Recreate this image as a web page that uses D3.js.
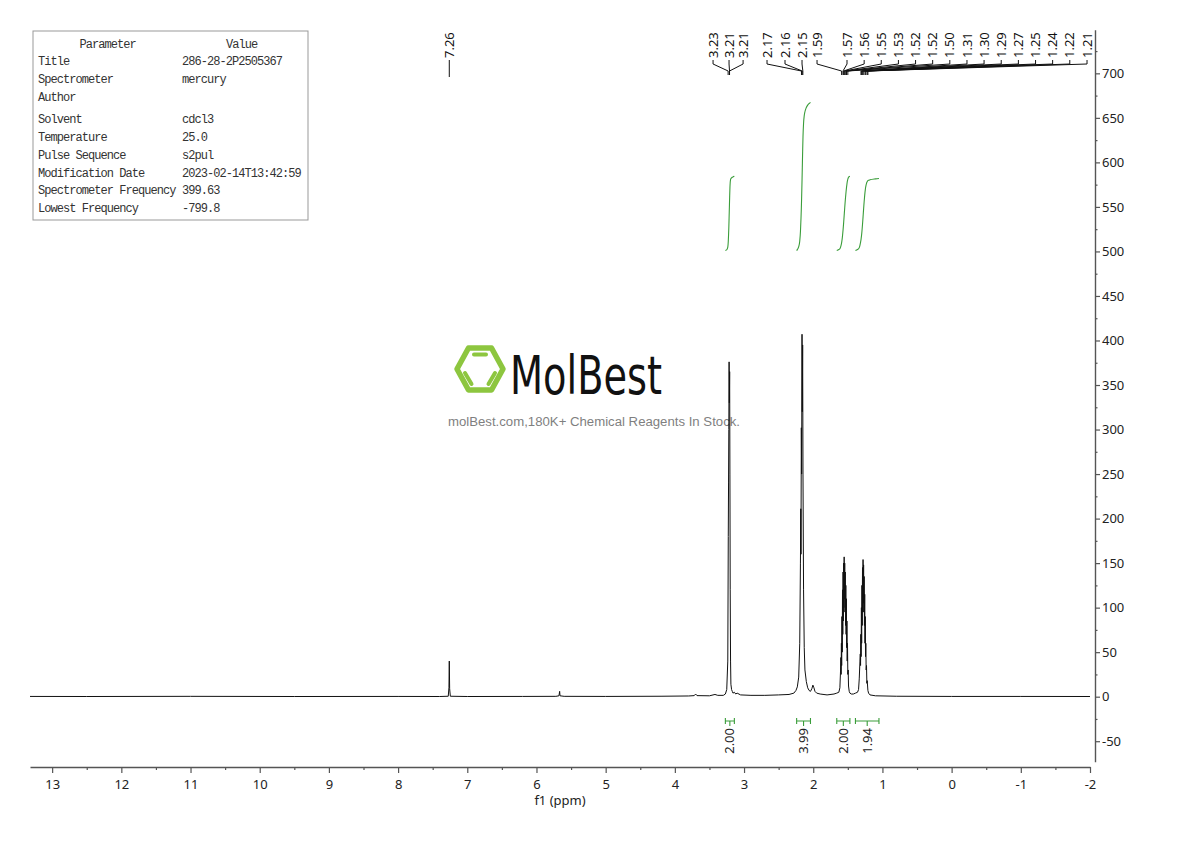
<!DOCTYPE html>
<html>
<head>
<meta charset="utf-8">
<script src="https://cdn.jsdelivr.net/npm/d3@7"></script>
<style>
  body { margin: 0; background: #fff; }
  text { font-family: "Noto Sans", sans-serif; }
</style>
</head>
<body>
<svg id="chart" width="1190" height="841"></svg>
<script>
'use strict';

// ---- data ----
var xTickValues = [13, 12, 11, 10, 9, 8, 7, 6, 5, 4, 3, 2, 1, 0, -1, -2];
var yTickValues = [-50, 0, 50, 100, 150, 200, 250, 300, 350, 400, 450, 500, 550, 600, 650, 700];

var paramNames = ['Title', 'Spectrometer', 'Author', 'Solvent', 'Temperature', 'Pulse Sequence',
                  'Modification Date', 'Spectrometer Frequency', 'Lowest Frequency'];
var paramValues = ['286-28-2P2505367', 'mercury', '', 'cdcl3', '25.0', 's2pul',
                   '2023-02-14T13:42:59', '399.63', '-799.8'];

// traced spectrum: [ppm, intensity]
var spectrum = [
  [13.32, 0.3], [12.5, 0.2], [11.0, 0.4], [9.5, 0.2], [8.0, 0.3], [7.40, 0.2],
  [7.275, 0.5], [7.265, 10], [7.26, 40], [7.255, 9], [7.245, 0.5], [7.0, 0.2],
  [6.2, 0.3], [5.72, 0.4], [5.675, 1], [5.665, 6], [5.66, 1], [5.60, 0.4], [5.0, 0.3],
  [4.2, 0.5], [3.80, 0.8], [3.72, 1.2], [3.70, 3], [3.68, 1.2], [3.50, 1], [3.42, 2.5],
  [3.38, 1.5], [3.30, 1.5], [3.27, 3], [3.25, 8], [3.235, 40], [3.228, 180], [3.224, 240],
  [3.220, 300], [3.216, 376], [3.212, 330], [3.208, 365], [3.204, 250], [3.20, 120],
  [3.195, 40], [3.19, 14], [3.18, 8], [3.17, 6], [3.16, 4], [3.14, 5], [3.12, 3], [3.10, 4],
  [3.05, 2], [2.90, 1.5], [2.70, 1.5], [2.50, 2], [2.35, 2.5], [2.28, 4], [2.25, 7],
  [2.23, 11], [2.21, 22], [2.195, 60], [2.185, 150], [2.18, 211], [2.177, 160], [2.172, 302],
  [2.168, 250], [2.162, 407], [2.158, 320], [2.153, 395], [2.148, 250], [2.14, 120],
  [2.13, 55], [2.12, 30], [2.10, 17], [2.08, 10], [2.06, 7], [2.04, 6], [2.02, 9],
  [2.005, 13], [1.99, 10], [1.975, 6], [1.95, 4], [1.90, 3], [1.80, 2], [1.70, 3],
  [1.66, 4], [1.63, 5], [1.615, 10], [1.605, 30], [1.60, 44], [1.597, 25], [1.593, 60],
  [1.589, 35], [1.585, 90], [1.581, 50], [1.577, 120], [1.573, 70], [1.569, 140],
  [1.565, 85], [1.561, 150], [1.557, 100], [1.553, 157], [1.549, 110], [1.545, 150],
  [1.541, 95], [1.537, 140], [1.533, 80], [1.529, 125], [1.525, 70], [1.521, 110],
  [1.517, 55], [1.513, 85], [1.509, 40], [1.505, 60], [1.50, 25], [1.495, 30], [1.49, 12],
  [1.48, 6], [1.47, 4], [1.45, 3], [1.42, 3], [1.39, 4], [1.36, 5], [1.345, 8],
  [1.335, 20], [1.325, 40], [1.32, 48], [1.316, 35], [1.312, 70], [1.308, 45], [1.304, 100],
  [1.30, 60], [1.296, 125], [1.292, 80], [1.288, 145], [1.284, 95], [1.280, 154],
  [1.276, 105], [1.272, 148], [1.268, 95], [1.264, 135], [1.26, 80], [1.256, 115],
  [1.252, 60], [1.248, 90], [1.244, 45], [1.24, 60], [1.235, 30], [1.23, 35], [1.225, 15],
  [1.22, 18], [1.21, 7], [1.20, 4], [1.18, 2], [1.10, 1], [0.8, 0.5], [0, 0.3],
  [-1, 0.3], [-2, 0.2]
];

var soloLabel = '7.26';
var peakLabels = ['3.23', '3.21', '3.21', '2.17', '2.16', '2.15', '1.59', '1.57', '1.56', '1.55',
                  '1.53', '1.52', '1.52', '1.50', '1.31', '1.30', '1.29', '1.27', '1.25', '1.24',
                  '1.22', '1.21'];
// where each label column sits, in ppm
var labelSlotPpm = [3.448, 3.217, 3.014, 2.668, 2.408, 2.162, 1.945, 1.512, 1.264, 1.017,
                    0.769, 0.521, 0.274, 0.026, -0.222, -0.469, -0.717, -0.965, -1.213,
                    -1.460, -1.708, -1.957];

var integralRanges = [[3.27, 3.14], [2.24, 2.04], [1.66, 1.47], [1.39, 1.05]];
var integralValues = [2.00, 3.99, 2.00, 1.94];

// ---- setup ----
var svg = d3.select('#chart');
var green = '#3a9d3a';

var x = d3.scaleLinear().domain([13.32, -2]).range([30, 1090]);
var y = d3.scaleLinear().domain([-73, 749]).range([761.7, 29.7]);

// ---- parameter table ----
var table = svg.append('g').attr('class', 'params');
table.append('rect')
  .attr('x', 33).attr('y', 31).attr('width', 275).attr('height', 189)
  .attr('fill', '#fff').attr('stroke', '#999').attr('stroke-width', 1);

function tableText(txt, tx, ty, anchor) {
  table.append('text')
    .attr('x', tx).attr('y', ty)
    .attr('text-anchor', anchor || 'start')
    .style('font-family', '"Liberation Mono", monospace')
    .style('font-size', '12px')
    .style('letter-spacing', '-0.95px')
    .attr('fill', '#333')
    .text(txt);
}
tableText('Parameter', 107.7, 47.7, 'middle');
tableText('Value', 241.7, 47.7, 'middle');
paramNames.forEach(function (name, i) {
  var ty = 65.3 + i * 17.9 + (i >= 3 ? 3.8 : 0);
  tableText(name, 38, ty);
  tableText(paramValues[i], 182, ty);
});

// ---- watermark logo ----
var logo = svg.append('g').attr('class', 'logo');
var hx = 480, hy = 369, hr = 23, hv = 21;
logo.append('path')
  .attr('d', 'M' + (hx - hr) + ',' + hy + 'L' + (hx - hr / 2) + ',' + (hy - hv) +
        'L' + (hx + hr / 2) + ',' + (hy - hv) + 'L' + (hx + hr) + ',' + hy +
        'L' + (hx + hr / 2) + ',' + (hy + hv) + 'L' + (hx - hr / 2) + ',' + (hy + hv) + 'Z')
  .attr('fill', 'none').attr('stroke', '#8dc63f').attr('stroke-width', 5.5)
  .attr('stroke-linejoin', 'round');
logo.append('path')
  .attr('d', 'M474,354.5L486,354.5 M465,373L471.5,384 M495,373L488.5,384')
  .attr('stroke', '#8dc63f').attr('stroke-width', 4).attr('stroke-linecap', 'round');
logo.append('text')
  .attr('x', 510).attr('y', 393.5)
  .attr('textLength', 152).attr('lengthAdjust', 'spacingAndGlyphs')
  .style('font-family', '"DejaVu Sans", sans-serif')
  .style('font-size', '54px')
  .attr('fill', '#111')
  .text('MolBest');
logo.append('text')
  .attr('x', 448).attr('y', 425.5)
  .attr('textLength', 292).attr('lengthAdjust', 'spacingAndGlyphs')
  .style('font-family', '"Liberation Sans", Arial, sans-serif')
  .style('font-size', '12.5px')
  .attr('fill', '#7f7f7f')
  .text('molBest.com,180K+ Chemical Reagents In Stock.');

// ---- axes ----
function styleAxis(g) {
  g.select('.domain').attr('stroke', '#555').attr('stroke-width', 1.4);
  g.selectAll('.tick line').attr('stroke', '#555').attr('stroke-width', 1.2);
  g.selectAll('.tick text').attr('fill', '#222')
    .style('font-family', '"Noto Sans", sans-serif').style('font-size', '13px');
}

var xAxis = svg.append('g').attr('transform', 'translate(0,767)')
  .call(d3.axisBottom(x).tickValues(xTickValues).tickSize(6).tickPadding(7)
    .tickSizeOuter(0).tickFormat(function (d) { return String(d); }));
styleAxis(xAxis);
var xMinor = svg.append('g').attr('transform', 'translate(0,767)')
  .call(d3.axisBottom(x).tickValues(xTickValues.slice(0, -1).map(function (d) { return d - 0.5; }))
    .tickSize(3).tickSizeOuter(0).tickFormat(''));
xMinor.select('.domain').remove();
xMinor.selectAll('.tick line').attr('stroke', '#555').attr('stroke-width', 1.2);

svg.append('text')
  .attr('x', 560).attr('y', 805)
  .attr('text-anchor', 'middle')
  .style('font-size', '13px')
  .attr('fill', '#222')
  .text('f1 (ppm)');

var yAxis = svg.append('g').attr('transform', 'translate(1095,0)')
  .call(d3.axisRight(y).tickValues(yTickValues).tickSize(5).tickPadding(2)
    .tickSizeOuter(0).tickFormat(function (d) { return String(d); }));
styleAxis(yAxis);
var yMinor = svg.append('g').attr('transform', 'translate(1095,0)')
  .call(d3.axisRight(y).tickValues(yTickValues.map(function (d) { return d + 25; }))
    .tickSize(2.5).tickSizeOuter(0).tickFormat(''));
yMinor.select('.domain').remove();
yMinor.selectAll('.tick line').attr('stroke', '#555').attr('stroke-width', 1.2);

// ---- spectrum trace ----
var line = d3.line()
  .x(function (d) { return x(d[0]); })
  .y(function (d) { return y(d[1]); });

svg.append('path')
  .datum(spectrum)
  .attr('d', line)
  .attr('fill', 'none')
  .attr('stroke', '#111')
  .attr('stroke-width', 1);

// ---- integrals ----
var integralBase = 501, integralUnit = 41.7;

function valueAt(ppm) {
  for (var i = 1; i < spectrum.length; i++) {
    var a = spectrum[i - 1], b = spectrum[i];
    if (ppm <= a[0] && ppm >= b[0]) {
      var t = (a[0] - ppm) / (a[0] - b[0]);
      return a[1] + (b[1] - a[1]) * t;
    }
  }
  return 0;
}

function integralCurve(range, value) {
  var pts = spectrum.filter(function (p) { return p[0] < range[0] && p[0] > range[1]; });
  pts.unshift([range[0], valueAt(range[0])]);
  pts.push([range[1], valueAt(range[1])]);
  var cum = [0];
  for (var i = 1; i < pts.length; i++) {
    cum.push(cum[i - 1] + (pts[i - 1][0] - pts[i][0]) * (pts[i - 1][1] + pts[i][1]) / 2);
  }
  var total = cum[cum.length - 1];
  return pts.map(function (p, i) {
    return [p[0], integralBase + cum[i] / total * value * integralUnit];
  });
}

var integralLine = d3.line()
  .x(function (d) { return x(d[0]); })
  .y(function (d) { return y(d[1]); })
  .curve(d3.curveMonotoneX);

var integrals = svg.append('g').attr('class', 'integrals');
integralRanges.forEach(function (r, i) {
  integrals.append('path')
    .datum(integralCurve(r, integralValues[i]))
    .attr('d', integralLine)
    .attr('fill', 'none').attr('stroke', green).attr('stroke-width', 1.1);

  var x1 = x(r[0]), x2 = x(r[1]), cx = (x1 + x2) / 2;
  integrals.append('path')
    .attr('d', 'M' + x1 + ',721H' + x2 + 'M' + x1 + ',718V724M' + x2 + ',718V724M' + cx + ',721V726')
    .attr('fill', 'none').attr('stroke', green).attr('stroke-width', 1.1);
  integrals.append('text')
    .attr('transform', 'translate(' + cx + ',728) rotate(-90)')
    .attr('text-anchor', 'end')
    .attr('dy', '0.35em')
    .style('font-size', '13px')
    .attr('fill', '#222')
    .text(integralValues[i].toFixed(2));
});

// ---- peak labels ----
var labels = svg.append('g').attr('class', 'peak-labels');

function peakText(txt, lx) {
  labels.append('text')
    .attr('transform', 'translate(' + lx + ',58) rotate(-90)')
    .attr('dy', '0.35em')
    .style('font-size', '13px')
    .attr('fill', '#111')
    .text(txt);
}

peakText(soloLabel, x(+soloLabel));
labels.append('path')
  .attr('d', 'M' + x(+soloLabel) + ',60V77')
  .attr('stroke', '#111').attr('stroke-width', 1).attr('fill', 'none');

peakLabels.forEach(function (lbl, i) {
  var lx = x(labelSlotPpm[i]), px = x(+lbl);
  peakText(lbl, lx);
  labels.append('path')
    .attr('d', 'M' + lx + ',60V64L' + px + ',71V75')
    .attr('stroke', '#111').attr('stroke-width', 1).attr('fill', 'none');
});
</script>
</body>
</html>
